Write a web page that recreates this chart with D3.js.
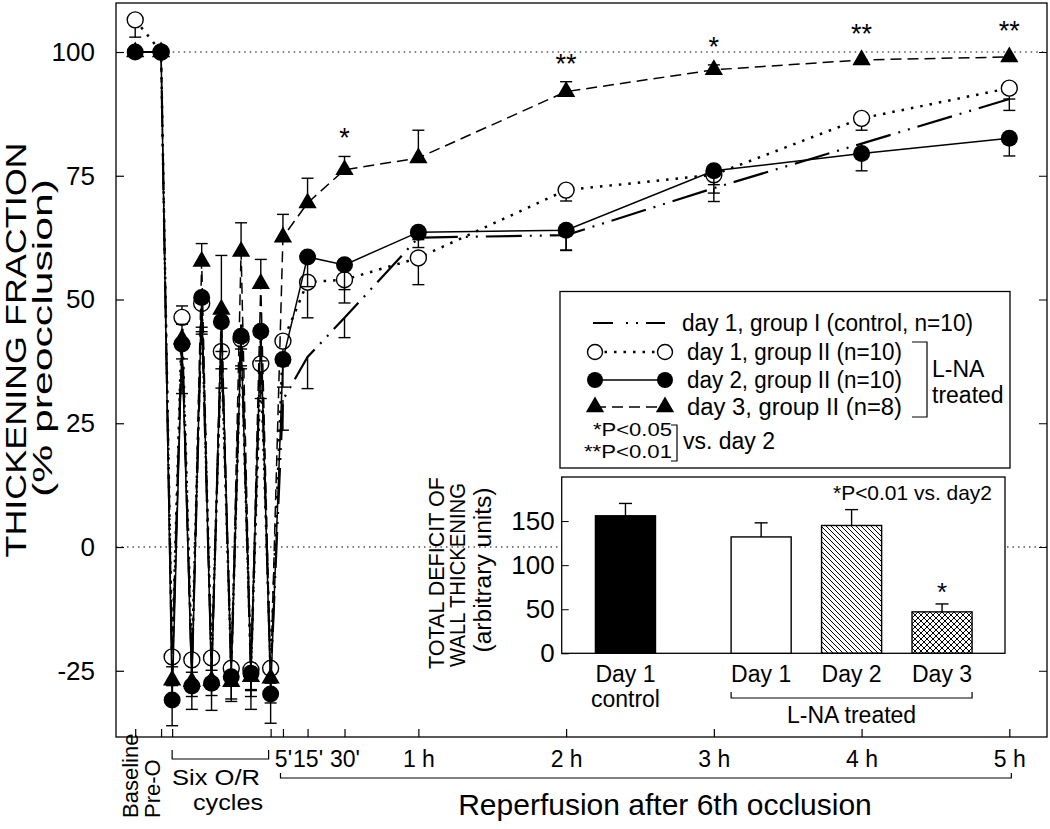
<!DOCTYPE html>
<html><head><meta charset="utf-8">
<script src="https://cdn.jsdelivr.net/npm/d3@7"></script>
<style>
body{margin:0;background:#fff;}
svg{display:block;font-family:"Liberation Sans",Arial,sans-serif;}
</style></head><body>
<svg id="c" width="1050" height="829"></svg>
<script>
// ---- data ----
// time (minutes relative to end of 6th occlusion); Baseline, Pre-O, O1,R1,...,O6, then reperfusion
const times = [-55,-44.5,-40,-36,-32,-28,-24,-20,-16,-12,-8,-4,0,5,15,30,60,120,180,240,300];
const controlVals = [100,100,-25,44,-26,48,-25,42,-25,45,-26,43,-27,29.7,38.4,46.3,62.5,63,72.5,81.5,90.5];
const controlErr  = [0,0,-3,-6,-3,-5,-3,-6,-3,-5,-3,-6,-3,-6.1,-6.4,-4,-2,-3,-2.7,-3,-2.3];
const day1Vals = [106.5,100,-22.2,46.4,-22.8,49.2,-22.4,39.5,-24.5,42,-24.8,37,-24.5,41.6,53.5,54,58.4,72.1,75.2,86.6,92.7];
const day1Err  = [-3.5,0,-2,2.3,-2.5,-5.7,-2.5,-7.4,-3,-6,-4,-7,-3,-5,-7.2,-4.7,-5.4,-2.2,-2,-2.4,-2.2];
const day2Vals = [100,100,-30.9,41,-28.1,50.4,-27.5,45.5,-26.2,42.6,-25.5,43.6,-29.7,37.9,58.6,57,63.6,64,76,79.5,82.6];
const day2Err  = [0,0,-5.2,-10,-4.7,-6,-5.5,-6,-5,-6,-7.3,-6,-5.9,-5.6,-6,-5,-1.5,-4.1,-4.5,-3.5,-3.6];
const day3Vals = [100,100,-26.9,42,-27.2,57.7,-27,48,-27.2,59.7,-26.2,53.2,-26.5,62.6,69.5,76.2,78.6,92,96.4,98.4,99];
const day3Err  = [0,0,-4,3,-3,3.6,-3,10.9,-3.5,5.8,-4,4.9,-5,4.6,5,2.7,5.6,2,1,0,0];
const sigTimes = [30,120,180,240,300];
const sigMarks = ['*','**','*','**','**'];
const yTicks = [-25,0,25,50,75,100];
const xTickValues = [-55,-44.5,-40,0,5,15,30,60,120,180,240,300];
const xTickText = {5:"5'",15:"15'",30:"30'",60:"1 h",120:"2 h",180:"3 h",240:"4 h",300:"5 h"};

// inset bar chart
const barLabels = ['Day 1','Day 1','Day 2','Day 3'];
const barSub = ['control','','',''];
const barPos = [0,1.5,2.5,3.5];
const barVals = [156,132,145,47];
const barErr = [14,16,18,9];
const barTicks = [0,50,100,150];

// ---- drawing ----
const svg = d3.select('#c');
const FONT = '"Liberation Sans",Arial,sans-serif';
const defs = svg.append('defs');
const p1 = defs.append('pattern').attr('id','hatch').attr('patternUnits','userSpaceOnUse').attr('width',5).attr('height',5);
p1.append('path').attr('d','M-1,-1L6,6M-1,4L1,6M4,-1L6,1').attr('stroke','#000').attr('stroke-width',1);
const p2 = defs.append('pattern').attr('id','cross').attr('patternUnits','userSpaceOnUse').attr('width',6).attr('height',6);
p2.append('path').attr('d','M-1,-1L7,7M-1,5L1,7M5,-1L7,1M-1,7L7,-1M-1,1L1,-1M5,7L7,5').attr('stroke','#000').attr('stroke-width',1);

const L=116, R=1047, T=3, B=737;
const x = d3.scaleLinear().domain([-62.8,315.3]).range([L,R]);
const y = d3.scaleLinear().domain([-38.38,109.9]).range([B,T]);

// reference dotted lines
svg.append('line').attr('x1',x(-42)).attr('x2',R).attr('y1',y(100)).attr('y2',y(100))
  .attr('stroke','#000').attr('stroke-width',1).attr('stroke-dasharray','1.5,4');
svg.append('line').attr('x1',L).attr('x2',R).attr('y1',y(0)).attr('y2',y(0))
  .attr('stroke','#000').attr('stroke-width',1).attr('stroke-dasharray','1.5,4');

// frame
svg.append('rect').attr('x',L).attr('y',T).attr('width',R-L).attr('height',B-T)
  .attr('fill','none').attr('stroke','#000').attr('stroke-width',1.3);

// axes
const ya = svg.append('g').attr('transform',`translate(${L},0)`)
  .call(d3.axisLeft(y).tickValues(yTicks).tickSize(-8).tickPadding(21).tickFormat(d=>String(d)));
ya.select('.domain').remove();
ya.selectAll('text').attr('font-size',26).attr('font-family',FONT);
ya.selectAll('line').attr('stroke-width',1.2);
const yr = svg.append('g').attr('transform',`translate(${R},0)`)
  .call(d3.axisRight(y).tickValues(yTicks).tickSize(-8).tickFormat(''));
yr.select('.domain').remove();
const xa = svg.append('g').attr('transform',`translate(0,${B})`)
  .call(d3.axisBottom(x).tickValues(xTickValues).tickSize(-8).tickPadding(14).tickFormat(d=>xTickText[d]||''));
xa.select('.domain').remove();
xa.selectAll('text').attr('font-size',23).attr('font-family',FONT);
xa.selectAll('line').attr('stroke-width',1.2);

// y title
svg.append('text').attr('transform','translate(26,350) rotate(-90)').attr('text-anchor','middle')
  .attr('font-size',30).attr('textLength',415).attr('lengthAdjust','spacingAndGlyphs').text('THICKENING FRACTION');
svg.append('text').attr('transform','translate(52,338) rotate(-90)').attr('text-anchor','middle')
  .attr('font-size',28).attr('textLength',318).attr('lengthAdjust','spacingAndGlyphs').text('(% preocclusion)');

// x annotations
svg.append('text').attr('transform',`translate(${x(-55)+3},818) rotate(-90)`).attr('font-size',22).text('Baseline');
svg.append('text').attr('transform',`translate(${x(-44.5)-1},818) rotate(-90)`).attr('font-size',22).text('Pre-O');
svg.append('path').attr('d',`M${x(-40)},750V759H${x(0)-2}V750`).attr('fill','none').attr('stroke','#000').attr('stroke-width',1.2);
svg.append('text').attr('x',216).attr('y',785).attr('text-anchor','middle').attr('font-size',22)
  .attr('textLength',88).attr('lengthAdjust','spacingAndGlyphs').text('Six O/R');
svg.append('text').attr('x',228).attr('y',810).attr('text-anchor','middle').attr('font-size',22)
  .attr('textLength',70).attr('lengthAdjust','spacingAndGlyphs').text('cycles');
svg.append('path').attr('d',`M${x(4)},773V778H${x(300)+2}V773`).attr('fill','none').attr('stroke','#000').attr('stroke-width',1.2);
svg.append('text').attr('x',665).attr('y',815).attr('text-anchor','middle').attr('font-size',30).text('Reperfusion after 6th occlusion');

// series
const series = [
  {vals:controlVals, err:controlErr, dash:'36,8,2,8,2,8', sw:2.2, marker:null},
  {vals:day1Vals, err:day1Err, dash:'2.5,7', sw:2.5, marker:'open'},
  {vals:day3Vals, err:day3Err, dash:'11,6', sw:1.5, marker:'tri'},
  {vals:day2Vals, err:day2Err, dash:null, sw:1.5, marker:'filled'}
];
const line = d3.line().x(d=>x(d.t)).y(d=>y(d.v));
const triSym = d3.symbol().type(d3.symbolTriangle).size(145);
series.forEach(s=>{
  const pts = times.map((t,i)=>({t, v:s.vals[i], e:s.err[i]}));
  svg.append('path').datum(pts).attr('d',line).attr('fill','none').attr('stroke','#000')
    .attr('stroke-width',s.sw).attr('stroke-dasharray',s.dash);
  const eb = svg.append('g').attr('stroke','#000').attr('stroke-width',1.4);
  pts.filter(p=>p.e!==0).forEach(p=>{
    eb.append('line').attr('x1',x(p.t)).attr('x2',x(p.t)).attr('y1',y(p.v)).attr('y2',y(p.v+p.e));
    eb.append('line').attr('x1',x(p.t)-6).attr('x2',x(p.t)+6).attr('y1',y(p.v+p.e)).attr('y2',y(p.v+p.e));
  });
  if(s.marker==='open'){
    svg.append('g').selectAll('circle').data(pts).join('circle').attr('cx',d=>x(d.t)).attr('cy',d=>y(d.v))
      .attr('r',8).attr('fill','#fff').attr('stroke','#000').attr('stroke-width',1.4);
  } else if(s.marker==='filled'){
    svg.append('g').selectAll('circle').data(pts).join('circle').attr('cx',d=>x(d.t)).attr('cy',d=>y(d.v))
      .attr('r',8.5).attr('fill','#000');
  } else if(s.marker==='tri'){
    svg.append('g').selectAll('path').data(pts).join('path').attr('d',triSym)
      .attr('transform',d=>`translate(${x(d.t)},${y(d.v)})`).attr('fill','#000');
  }
});
// significance marks
sigTimes.forEach((t,k)=>{
  const i = times.indexOf(t);
  const top = y(day3Vals[i]+Math.max(day3Err[i],0)) - (day3Err[i]>0?0:8);
  svg.append('text').attr('x',x(t)).attr('y',top-9).attr('text-anchor','middle').attr('font-size',27).text(sigMarks[k]);
});

// legend
const lg = svg.append('g');
lg.append('rect').attr('x',560).attr('y',291.5).attr('width',450).attr('height',176.5).attr('fill','#fff').attr('stroke','#000').attr('stroke-width',1.3);
const rows = [323,352,380,407];
lg.append('line').attr('x1',593).attr('x2',665).attr('y1',rows[0]).attr('y2',rows[0]).attr('stroke','#000').attr('stroke-width',2.2).attr('stroke-dasharray','20,13,2,8,2,8,20');
lg.append('line').attr('x1',595).attr('x2',665).attr('y1',rows[1]).attr('y2',rows[1]).attr('stroke','#000').attr('stroke-width',2.5).attr('stroke-dasharray','2.5,7');
[595,665].forEach(cx=>lg.append('circle').attr('cx',cx).attr('cy',rows[1]).attr('r',7.5).attr('fill','#fff').attr('stroke','#000').attr('stroke-width',1.4));
lg.append('line').attr('x1',595).attr('x2',665).attr('y1',rows[2]).attr('y2',rows[2]).attr('stroke','#000').attr('stroke-width',1.5);
[595,665].forEach(cx=>lg.append('circle').attr('cx',cx).attr('cy',rows[2]).attr('r',8).attr('fill','#000'));
lg.append('line').attr('x1',595).attr('x2',665).attr('y1',rows[3]).attr('y2',rows[3]).attr('stroke','#000').attr('stroke-width',1.5).attr('stroke-dasharray','11,6');
[595,665].forEach(cx=>lg.append('path').attr('d',triSym).attr('transform',`translate(${cx},${rows[3]})`).attr('fill','#000'));
const ltxt = ['day 1, group I (control, n=10)','day 1, group II (n=10)','day 2, group II (n=10)','day 3, group II (n=8)'];
ltxt.forEach((t,i)=>lg.append('text').attr('x',i===0?682:687).attr('y',rows[i]+8).attr('font-size',23)
  .attr('textLength',i===0?291:215).attr('lengthAdjust','spacingAndGlyphs').text(t));
lg.append('path').attr('d','M912,342H927V417H912').attr('fill','none').attr('stroke','#000').attr('stroke-width',1.2);
lg.append('text').attr('x',932).attr('y',377).attr('font-size',23).text('L-NA');
lg.append('text').attr('x',932).attr('y',403).attr('font-size',23).text('treated');
lg.append('text').attr('x',672).attr('y',436).attr('text-anchor','end').attr('font-size',19)
  .attr('textLength',79).attr('lengthAdjust','spacingAndGlyphs').text('*P<0.05');
lg.append('text').attr('x',672).attr('y',458).attr('text-anchor','end').attr('font-size',19)
  .attr('textLength',88).attr('lengthAdjust','spacingAndGlyphs').text('**P<0.01');
lg.append('path').attr('d','M671,425H677V461H671').attr('fill','none').attr('stroke','#000').attr('stroke-width',1.2);
lg.append('text').attr('x',683).attr('y',449).attr('font-size',23).text('vs. day 2');

// inset bar chart
const IL=561.7, IR=1005, IT=477, IB=653.3;
const bx = d3.scaleLinear().domain([-0.705,4.196]).range([IL,IR]);
const by = d3.scaleLinear().domain([0,200]).range([IB,IT]);
const ins = svg.append('g');
ins.append('rect').attr('x',IL).attr('y',IT).attr('width',IR-IL).attr('height',IB-IT).attr('fill','#fff').attr('stroke','#000').attr('stroke-width',1.3);
const iya = ins.append('g').attr('transform',`translate(${IL},0)`)
  .call(d3.axisLeft(by).tickValues(barTicks).tickSize(-7).tickPadding(7));
iya.select('.domain').remove();
iya.selectAll('text').attr('font-size',26).attr('font-family',FONT);
const fills = ['#000','#fff','url(#hatch)','url(#cross)'];
const hw = 0.332;
barVals.forEach((v,i)=>{
  ins.append('rect').attr('x',bx(barPos[i]-hw)).attr('width',bx(barPos[i]+hw)-bx(barPos[i]-hw))
    .attr('y',by(v)).attr('height',by(0)-by(v)).attr('fill',fills[i]).attr('stroke','#000').attr('stroke-width',1.4);
  const cx = bx(barPos[i]);
  ins.append('line').attr('x1',cx).attr('x2',cx).attr('y1',by(v)).attr('y2',by(v+barErr[i])).attr('stroke','#000').attr('stroke-width',1.4);
  ins.append('line').attr('x1',cx-6.5).attr('x2',cx+6.5).attr('y1',by(v+barErr[i])).attr('y2',by(v+barErr[i])).attr('stroke','#000').attr('stroke-width',1.4);
  ins.append('text').attr('x',cx).attr('y',682).attr('text-anchor','middle').attr('font-size',23).text(barLabels[i]);
  if(barSub[i]) ins.append('text').attr('x',cx).attr('y',707).attr('text-anchor','middle').attr('font-size',23).text(barSub[i]);
});
ins.append('text').attr('x',bx(barPos[3])).attr('y',by(barVals[3]+barErr[3])-3).attr('text-anchor','middle').attr('font-size',26).text('*');
ins.append('text').attr('x',833).attr('y',500).attr('font-size',21).attr('textLength',159).attr('lengthAdjust','spacingAndGlyphs').text('*P<0.01 vs. day2');
ins.append('path').attr('d',`M${bx(barPos[1]-hw)},692V698H${bx(barPos[3]+hw)}V692`).attr('fill','none').attr('stroke','#000').attr('stroke-width',1.2);
ins.append('text').attr('x',bx(barPos[2])).attr('y',723).attr('text-anchor','middle').attr('font-size',23).text('L-NA treated');
ins.append('text').attr('transform','translate(444,573) rotate(-90)').attr('text-anchor','middle').attr('font-size',22).attr('textLength',192).attr('lengthAdjust','spacingAndGlyphs').text('TOTAL DEFICIT OF');
ins.append('text').attr('transform','translate(465,575) rotate(-90)').attr('text-anchor','middle').attr('font-size',22).attr('textLength',184).attr('lengthAdjust','spacingAndGlyphs').text('WALL THICKENING');
ins.append('text').attr('transform','translate(491,570) rotate(-90)').attr('text-anchor','middle').attr('font-size',23).attr('textLength',165).attr('lengthAdjust','spacingAndGlyphs').text('(arbitrary units)');
</script>
</body></html>
